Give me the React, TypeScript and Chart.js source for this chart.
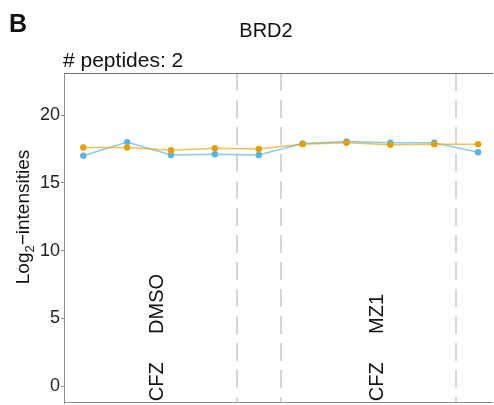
import { useEffect, useRef } from "react";
import { Chart, registerables } from "chart.js";

Chart.register(...registerables);

// ---- data ----
const samples = [0, 1, 2, 3, 4, 5, 6, 7, 8, 9];
const peptideOrange = [17.6, 17.6, 17.4, 17.55, 17.5, 17.85, 17.95, 17.8, 17.85, 17.85];
const peptideBlue = [17.0, 18.0, 17.05, 17.1, 17.05, 17.9, 18.05, 17.95, 17.95, 17.25];
const yTicks = [0, 5, 10, 15, 20];
const separators = [3.5, 4.5, 8.5];
const groupCenters = [1.7, 6.7];
const treatments = ["CFZ", "CFZ"];
const conditions = ["DMSO", "MZ1"];
const titleText = "BRD2";
const panelLetter = "B";
const subtitleText = "# peptides: 2";

const FONT = "'Liberation Sans', Arial, Helvetica, sans-serif";

const overlayPlugin = {
  id: "overlay",
  beforeDatasetsDraw(chart: any) {
    const { ctx, chartArea, scales } = chart;
    const x = scales.x;
    ctx.save();
    ctx.strokeStyle = "#d6d6d6";
    ctx.lineWidth = 2;
    ctx.setLineDash([18, 9]);
    separators.forEach((s) => {
      const px = Math.round(x.getPixelForValue(s));
      ctx.beginPath();
      ctx.moveTo(px, chartArea.top);
      ctx.lineTo(px, chartArea.bottom);
      ctx.stroke();
    });
    ctx.restore();
  },
  afterDraw(chart: any) {
    const { ctx, chartArea, scales } = chart;
    const x = scales.x;
    const y = scales.y;
    ctx.save();
    // top border and bottom axis
    ctx.strokeStyle = "#707070";
    ctx.lineWidth = 1;
    ctx.beginPath();
    ctx.moveTo(chartArea.left, chartArea.top + 0.5);
    ctx.lineTo(chartArea.right, chartArea.top + 0.5);
    ctx.stroke();
    ctx.strokeStyle = "#909090";
    ctx.beginPath();
    ctx.moveTo(chartArea.left, chartArea.bottom - 0.5);
    ctx.lineTo(chartArea.right, chartArea.bottom - 0.5);
    ctx.stroke();

    // rotated group labels
    ctx.fillStyle = "#111";
    ctx.font = `20px ${FONT}`;
    ctx.textAlign = "left";
    ctx.textBaseline = "middle";
    groupCenters.forEach((g, i) => {
      const px = x.getPixelForValue(g);
      const pyCond = y.getPixelForValue(3.85);
      const pyTreat = y.getPixelForValue(-1.12);
      ctx.save();
      ctx.translate(px, pyCond);
      ctx.rotate(-Math.PI / 2);
      ctx.fillText(conditions[i], 0, 0);
      ctx.restore();
      ctx.save();
      ctx.beginPath();
      ctx.rect(chartArea.left, chartArea.top, chartArea.right - chartArea.left, chartArea.bottom - chartArea.top);
      ctx.clip();
      ctx.translate(px, pyTreat);
      ctx.rotate(-Math.PI / 2);
      ctx.fillText(treatments[i], 0, 0);
      ctx.restore();
    });

    // titles
    ctx.fillStyle = "#111";
    ctx.textAlign = "center";
    ctx.textBaseline = "alphabetic";
    ctx.font = `20px ${FONT}`;
    ctx.fillText(titleText, 266, 37);
    ctx.textAlign = "left";
    ctx.font = `bold 25px ${FONT}`;
    ctx.fillText(panelLetter, 9, 32);
    ctx.font = `21px ${FONT}`;
    ctx.fillText(subtitleText, 63, 67);

    // y-axis title with subscript
    ctx.save();
    ctx.translate(29, 217);
    ctx.rotate(-Math.PI / 2);
    const big = `19px ${FONT}`;
    const small = `13px ${FONT}`;
    ctx.font = big;
    const w1 = ctx.measureText("Log").width;
    const w3 = ctx.measureText("\u2212intensities").width;
    ctx.font = small;
    const w2 = ctx.measureText("2").width;
    let cx = -(w1 + w2 + w3) / 2;
    ctx.font = big;
    ctx.fillText("Log", cx, 0);
    cx += w1;
    ctx.font = small;
    ctx.fillText("2", cx, 5);
    cx += w2;
    ctx.font = big;
    ctx.fillText("\u2212intensities", cx, 0);
    ctx.restore();

    ctx.restore();
  },
};

export default function App() {
  const ref = useRef<HTMLCanvasElement | null>(null);
  useEffect(() => {
    document.body.style.margin = "0";
    if (!ref.current) return;
    const chart = new Chart(ref.current, {
      type: "line",
      data: {
        datasets: [
          {
            label: "peptide 1",
            data: samples.map((s, i) => ({ x: s, y: peptideOrange[i] })),
            borderColor: "rgba(230,159,0,0.65)",
            backgroundColor: "#E69F00",
            pointBackgroundColor: "#E69F00",
            pointBorderWidth: 0,
            pointRadius: 3.2,
            borderWidth: 1.5,
          },
          {
            label: "peptide 2",
            data: samples.map((s, i) => ({ x: s, y: peptideBlue[i] })),
            borderColor: "rgba(86,180,233,0.7)",
            backgroundColor: "#56B4E9",
            pointBackgroundColor: "#56B4E9",
            pointBorderWidth: 0,
            pointRadius: 3.2,
            borderWidth: 1.5,
          },
        ],
      },
      options: {
        responsive: false,
        animation: false,
        layout: { autoPadding: false, padding: { top: 73, bottom: 2, right: 1, left: 0 } },
        plugins: {
          legend: { display: false },
          tooltip: { enabled: false },
          title: { display: false },
        },
        scales: {
          x: {
            type: "linear",
            min: -0.44,
            max: 9.34,
            display: false,
          },
          y: {
            type: "linear",
            min: -1.25,
            max: 23.1,
            afterBuildTicks: (scale: any) => {
              scale.ticks = yTicks.map((v) => ({ value: v }));
            },
            afterFit: (scale: any) => {
              scale.width = 64;
              scale.paddingTop = 0;
              scale.paddingBottom = 0;
            },
            border: { display: true, color: "#909090", width: 1 },
            grid: {
              drawOnChartArea: false,
              drawTicks: true,
              tickLength: 3,
              color: "#909090",
            },
            ticks: {
              padding: 1,
              color: "#222",
              font: { family: FONT, size: 18 },
            },
          },
        },
      },
      plugins: [overlayPlugin],
    });
    return () => chart.destroy();
  }, []);
  return (
    <div style={{ position: "absolute", left: 0, top: 0, width: 494, height: 405 }}>
      <canvas ref={ref} width={494} height={405} />
    </div>
  );
}
